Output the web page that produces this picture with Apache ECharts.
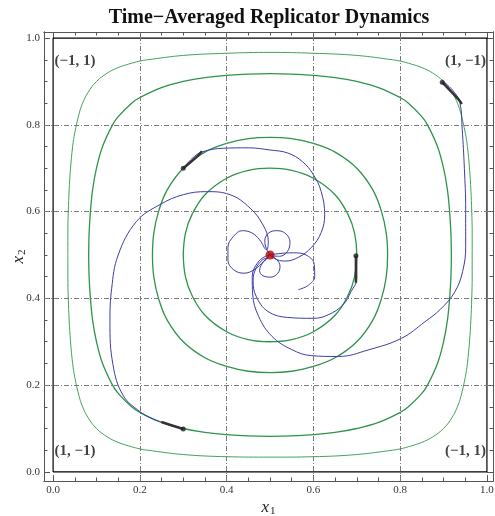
<!DOCTYPE html>
<html>
<head>
<meta charset="utf-8">
<script src="https://cdn.jsdelivr.net/npm/echarts@6/dist/echarts.min.js"></script>
<style>
html, body { margin: 0; padding: 0; background: #fff; }
#chart { width: 495px; height: 516px; }
</style>
</head>
<body>
<div id="chart"></div>
<script>
// ticks and grid
var majorTicks = [0, 0.2, 0.4, 0.6, 0.8, 1.0];
var minorTicks = [0.05, 0.1, 0.15, 0.25, 0.3, 0.35, 0.45, 0.5, 0.55, 0.65, 0.7, 0.75, 0.85, 0.9, 0.95];
var gridValues = [0.2, 0.4, 0.6, 0.8];
var simplexBox = [[0, 0], [1, 0], [1, 1], [0, 1], [0, 0]];

// corner payoff labels: [x, y, text, side]
var cornerLabels = [
    [0.003, 0.948, '(\u22121, 1)', 'left'],
    [0.998, 0.948, '(1, \u22121)', 'right'],
    [0.003, 0.047, '(1, \u22121)', 'left'],
    [0.998, 0.047, '(\u22121, 1)', 'right']
];

// replicator orbits (green)
var orbitA = [[0.300,0.500],[0.305,0.550],[0.320,0.593],[0.350,0.639],[0.400,0.677],[0.450,0.695],[0.500,0.700],[0.550,0.695],[0.600,0.677],[0.650,0.639],[0.680,0.593],[0.695,0.550],[0.700,0.500],[0.695,0.450],[0.680,0.407],[0.650,0.361],[0.600,0.323],[0.550,0.305],[0.500,0.300],[0.450,0.305],[0.400,0.323],[0.350,0.361],[0.320,0.407],[0.305,0.450],[0.300,0.500]];
var orbitB = [[0.229,0.500],[0.232,0.550],[0.243,0.600],[0.263,0.650],[0.300,0.700],[0.350,0.737],[0.400,0.757],[0.450,0.768],[0.500,0.771],[0.550,0.768],[0.600,0.757],[0.650,0.737],[0.700,0.700],[0.737,0.650],[0.757,0.600],[0.768,0.550],[0.771,0.500],[0.768,0.450],[0.757,0.400],[0.737,0.350],[0.700,0.300],[0.650,0.263],[0.600,0.243],[0.550,0.232],[0.500,0.229],[0.450,0.232],[0.400,0.243],[0.350,0.263],[0.300,0.300],[0.263,0.350],[0.243,0.400],[0.232,0.450],[0.229,0.500]];
var orbitC = [[0.082,0.500],[0.083,0.550],[0.086,0.600],[0.091,0.650],[0.100,0.700],[0.114,0.750],[0.137,0.800],[0.150,0.819],[0.181,0.850],[0.200,0.863],[0.250,0.886],[0.300,0.900],[0.350,0.909],[0.400,0.914],[0.450,0.917],[0.500,0.918],[0.550,0.917],[0.600,0.914],[0.650,0.909],[0.700,0.900],[0.750,0.886],[0.800,0.863],[0.819,0.850],[0.850,0.819],[0.863,0.800],[0.886,0.750],[0.900,0.700],[0.909,0.650],[0.914,0.600],[0.917,0.550],[0.918,0.500],[0.917,0.450],[0.914,0.400],[0.909,0.350],[0.900,0.300],[0.886,0.250],[0.863,0.200],[0.850,0.181],[0.819,0.150],[0.800,0.137],[0.750,0.114],[0.700,0.100],[0.650,0.091],[0.600,0.086],[0.550,0.083],[0.500,0.082],[0.450,0.083],[0.400,0.086],[0.350,0.091],[0.300,0.100],[0.250,0.114],[0.200,0.137],[0.181,0.150],[0.150,0.181],[0.137,0.200],[0.114,0.250],[0.100,0.300],[0.091,0.350],[0.086,0.400],[0.083,0.450],[0.082,0.500]];
var orbitD = [[0.034,0.500],[0.034,0.550],[0.035,0.601],[0.037,0.650],[0.040,0.698],[0.045,0.750],[0.050,0.782],[0.060,0.826],[0.068,0.850],[0.080,0.874],[0.100,0.900],[0.126,0.920],[0.150,0.932],[0.174,0.940],[0.200,0.947],[0.218,0.950],[0.300,0.960],[0.400,0.965],[0.500,0.967],[0.600,0.965],[0.700,0.960],[0.782,0.950],[0.800,0.947],[0.826,0.940],[0.850,0.932],[0.874,0.920],[0.900,0.900],[0.920,0.874],[0.932,0.850],[0.940,0.826],[0.950,0.782],[0.955,0.750],[0.960,0.698],[0.963,0.650],[0.965,0.601],[0.966,0.550],[0.966,0.500],[0.966,0.450],[0.965,0.399],[0.963,0.350],[0.960,0.302],[0.955,0.250],[0.950,0.218],[0.940,0.174],[0.932,0.150],[0.920,0.126],[0.900,0.100],[0.874,0.080],[0.850,0.068],[0.826,0.060],[0.800,0.053],[0.782,0.050],[0.700,0.040],[0.600,0.035],[0.500,0.034],[0.400,0.035],[0.300,0.040],[0.218,0.050],[0.200,0.053],[0.174,0.060],[0.150,0.068],[0.126,0.080],[0.100,0.100],[0.080,0.126],[0.068,0.150],[0.060,0.174],[0.050,0.218],[0.045,0.250],[0.040,0.302],[0.037,0.350],[0.035,0.399],[0.034,0.450],[0.034,0.500]];

// time-averaged paths (blue)
var avgA = [[0.300,0.700],[0.320,0.722],[0.342,0.737],[0.392,0.746],[0.450,0.747],[0.500,0.742],[0.541,0.735],[0.575,0.715],[0.600,0.685],[0.618,0.646],[0.626,0.593],[0.618,0.552],[0.596,0.518],[0.566,0.495],[0.535,0.486],[0.510,0.492],[0.494,0.510],[0.488,0.532],[0.496,0.550],[0.515,0.556],[0.535,0.550],[0.546,0.530],[0.540,0.508],[0.522,0.497],[0.505,0.498]];
var avgB = [[0.900,0.900],[0.925,0.875],[0.938,0.850],[0.943,0.790],[0.948,0.700],[0.951,0.606],[0.951,0.520],[0.944,0.462],[0.926,0.415],[0.893,0.375],[0.857,0.346],[0.803,0.308],[0.726,0.281],[0.657,0.266],[0.595,0.268],[0.550,0.282],[0.505,0.312],[0.474,0.358],[0.460,0.410],[0.459,0.450],[0.470,0.480],[0.490,0.497],[0.520,0.503],[0.555,0.505],[0.585,0.499],[0.602,0.478],[0.603,0.450],[0.588,0.430],[0.565,0.420]];
var avgC = [[0.300,0.100],[0.262,0.111],[0.230,0.122],[0.200,0.139],[0.161,0.177],[0.138,0.247],[0.131,0.346],[0.135,0.423],[0.150,0.500],[0.192,0.577],[0.246,0.616],[0.300,0.639],[0.354,0.646],[0.408,0.639],[0.454,0.608],[0.484,0.569],[0.496,0.531],[0.492,0.512],[0.476,0.535],[0.458,0.551],[0.436,0.556],[0.416,0.543],[0.403,0.518],[0.403,0.488],[0.416,0.466],[0.440,0.458],[0.465,0.467],[0.486,0.486],[0.500,0.500]];
var avgD = [[0.700,0.500],[0.700,0.445],[0.687,0.416],[0.668,0.385],[0.634,0.362],[0.600,0.354],[0.541,0.356],[0.495,0.370],[0.468,0.405],[0.461,0.440],[0.467,0.468],[0.482,0.488],[0.496,0.494],[0.482,0.480],[0.476,0.464],[0.484,0.452],[0.502,0.449],[0.518,0.458],[0.523,0.474],[0.515,0.490],[0.502,0.498]];

// initial transients (black) and start points
var tailA = [[0.300,0.700],[0.333,0.728],[0.343,0.739]];
var tailB = [[0.897,0.898],[0.935,0.858],[0.942,0.848]];
var tailC = [[0.300,0.099],[0.262,0.111],[0.250,0.115]];
var tailD = [[0.698,0.498],[0.698,0.448],[0.698,0.436]];
var startPoints = [[0.300,0.700],[0.897,0.898],[0.300,0.099],[0.698,0.498]];
var equilibrium = [[0.5, 0.5]];

var SERIF = 'Liberation Serif';
var FRAME = '#555';

function frameAxis(pos, ticks, len, withLabels, extra) {
    var ax = {
        type: 'value', position: pos, min: -0.021, max: 1.014,
        axisLine: {show: true, onZero: false, lineStyle: {color: FRAME, width: 1}},
        axisTick: {show: true, inside: true, length: len, customValues: ticks, lineStyle: {color: FRAME}},
        axisLabel: {show: false},
        splitLine: {show: false}
    };
    if (withLabels) {
        ax.axisLabel = {
            show: true, customValues: ticks, margin: 4,
            fontFamily: SERIF, fontSize: 11, color: '#333',
            formatter: function (v) { return v.toFixed(1); }
        };
    }
    for (var k in extra) ax[k] = extra[k];
    return ax;
}

var nameStyle = {
    rich: {
        i: {fontFamily: SERIF, fontStyle: 'italic', fontSize: 17, color: '#222'},
        s: {fontFamily: SERIF, fontSize: 11, color: '#222', padding: [8, 0, 0, 1]}
    }
};

function lineSeries(data, color, width, z) {
    return {
        type: 'line', data: data, showSymbol: false, smooth: 0.4, z: z, silent: true,
        lineStyle: {color: color, width: width}
    };
}

var series = [
    {
        type: 'line', data: simplexBox, showSymbol: false, z: 1, silent: true,
        lineStyle: {color: '#000', width: 1.2},
        markLine: {
            silent: true, symbol: 'none', label: {show: false},
            lineStyle: {color: '#7a7a7a', width: 1, type: [5, 2, 1, 2]},
            data: gridValues.map(function (v) { return {xAxis: v}; })
                .concat(gridValues.map(function (v) { return {yAxis: v}; }))
        }
    },
    lineSeries(orbitD, '#43a35a', 1, 2),
    lineSeries(orbitC, '#2e944a', 1.3, 2),
    lineSeries(orbitB, '#2e944a', 1.3, 2),
    lineSeries(orbitA, '#2e944a', 1.3, 2),
    lineSeries(avgA, '#3d3da6', 1, 3),
    lineSeries(avgB, '#3d3da6', 1, 3),
    lineSeries(avgC, '#3d3da6', 1, 3),
    lineSeries(avgD, '#3d3da6', 1, 3),
    lineSeries(tailA, '#333', 2.5, 4),
    lineSeries(tailB, '#333', 2.5, 4),
    lineSeries(tailC, '#333', 2.5, 4),
    lineSeries(tailD, '#333', 2.5, 4),
    {
        type: 'scatter', data: startPoints, symbolSize: 5, z: 5, silent: true,
        itemStyle: {color: '#222'}
    },
    {
        type: 'scatter', data: equilibrium, symbolSize: 9, z: 6, silent: true,
        itemStyle: {color: '#b30000'}
    },
    {
        type: 'scatter', symbolSize: 0, z: 6, silent: true,
        data: cornerLabels.map(function (c) {
            return {
                value: [c[0], c[1]],
                label: {
                    show: true, formatter: c[2], distance: 0,
                    position: c[3] === 'left' ? 'right' : 'left',
                    fontFamily: SERIF, fontWeight: 'bold', fontSize: 15, color: '#111'
                }
            };
        })
    }
];

var chart = echarts.init(document.getElementById('chart'));
chart.setOption({
    animation: false,
    backgroundColor: '#fff',
    title: {
        text: 'Time\u2212Averaged Replicator Dynamics',
        left: 264, top: 3, textAlign: 'center',
        textStyle: {fontFamily: SERIF, fontWeight: 'bold', fontSize: 20, color: '#111'}
    },
    grid: {left: 44, right: 2, top: 32, bottom: 35, containLabel: false, outerBoundsMode: 'none'},
    xAxis: [
        frameAxis('bottom', majorTicks, 6, true, {
            name: '{i|x}{s|1}', nameLocation: 'middle', nameGap: 17, nameMoveOverlap: false,
            nameTextStyle: nameStyle
        }),
        frameAxis('bottom', minorTicks, 3.5, false, {}),
        frameAxis('top', majorTicks, 6, false, {}),
        frameAxis('top', minorTicks, 3.5, false, {})
    ],
    yAxis: [
        frameAxis('left', majorTicks, 6, true, {
            name: '{i|x}{s|2}', nameLocation: 'middle', nameGap: 16, nameRotate: 90, nameMoveOverlap: false,
            nameTextStyle: nameStyle
        }),
        frameAxis('left', minorTicks, 3.5, false, {}),
        frameAxis('right', majorTicks, 6, false, {}),
        frameAxis('right', minorTicks, 3.5, false, {})
    ],
    series: series
});
</script>
</body>
</html>
